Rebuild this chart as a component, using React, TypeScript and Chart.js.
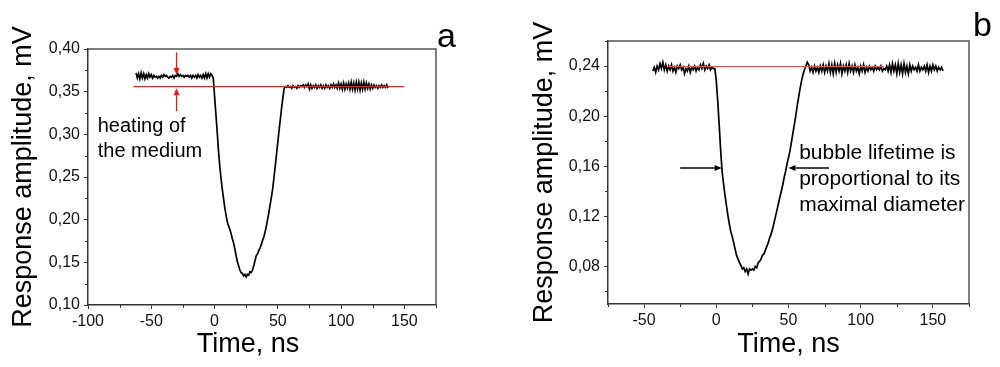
import React, { useEffect, useRef } from "react";
import { Chart, registerables } from "chart.js";

Chart.register(...registerables);

// ---------------- data (panel a) ----------------
const timeStartA = -62; // ns, samples every 1 ns
const preSignalA = [
  0.372, 0.366, 0.371, 0.365, 0.372, 0.366, 0.371, 0.365, 0.370, 0.366,
  0.371, 0.367, 0.370, 0.366, 0.369, 0.367, 0.368, 0.366, 0.368, 0.366,
  0.369, 0.367, 0.370, 0.368, 0.369, 0.367, 0.366, 0.368, 0.367, 0.369,
  0.366, 0.369, 0.368, 0.371, 0.368, 0.370, 0.368, 0.369, 0.367, 0.369,
  0.368, 0.369, 0.367, 0.369, 0.366, 0.369, 0.367, 0.369, 0.366, 0.370,
  0.367, 0.369, 0.366, 0.370, 0.366, 0.371, 0.366, 0.371, 0.367, 0.371,
  0.369,
];
const dipSignalA = [
  0.366, 0.345, 0.325, 0.305, 0.283, 0.265, 0.250, 0.237, 0.226, 0.215,
  0.206, 0.198, 0.193, 0.189, 0.184, 0.178, 0.173, 0.166, 0.158, 0.151,
  0.146, 0.141, 0.138, 0.137, 0.134, 0.136, 0.133, 0.136, 0.135, 0.139,
  0.138, 0.141, 0.146, 0.152, 0.158, 0.160, 0.164, 0.167, 0.171, 0.176,
  0.180, 0.186, 0.193, 0.201, 0.209, 0.218, 0.227, 0.237, 0.250, 0.263,
  0.277, 0.291, 0.305, 0.318, 0.331, 0.343, 0.354,
];
const postSignalA = [
  0.356, 0.355, 0.357, 0.355, 0.356, 0.354, 0.357, 0.355, 0.356, 0.354,
  0.357, 0.355, 0.357, 0.356, 0.358, 0.355, 0.358, 0.356, 0.359, 0.353,
  0.358, 0.354, 0.357, 0.355, 0.358, 0.354, 0.357, 0.355, 0.358, 0.354,
  0.357, 0.354, 0.358, 0.355, 0.357, 0.354, 0.358, 0.355, 0.359, 0.355,
  0.358, 0.354, 0.360, 0.354, 0.359, 0.353, 0.360, 0.353, 0.359, 0.354,
  0.360, 0.353, 0.361, 0.353, 0.360, 0.352, 0.361, 0.353, 0.361, 0.352,
  0.360, 0.353, 0.361, 0.353, 0.360, 0.354, 0.359, 0.353, 0.358, 0.354,
  0.358, 0.355, 0.357, 0.354, 0.357, 0.355, 0.358, 0.355, 0.357, 0.355,
  0.358, 0.354,
];
const heatingLevelA = 0.356;
const heatingLineTimesA = [-64, 150];

// ---------------- data (panel b) ----------------
const timeStartB = -44; // ns, samples every 1 ns
const preSignalB = [
  0.236, 0.239, 0.235, 0.240, 0.237, 0.242, 0.238, 0.243, 0.237, 0.241,
  0.236, 0.240, 0.237, 0.241, 0.236, 0.239, 0.235, 0.240, 0.238, 0.241,
  0.237, 0.239, 0.234, 0.238, 0.236, 0.240, 0.235, 0.239, 0.237, 0.240,
  0.236, 0.239, 0.237, 0.241, 0.238, 0.242, 0.237, 0.240, 0.238, 0.241,
  0.237, 0.239, 0.238,
];
const dipSignalB = [
  0.238, 0.228, 0.212, 0.193, 0.173, 0.156, 0.146, 0.137, 0.129, 0.121,
  0.114, 0.108, 0.104, 0.099, 0.094, 0.089, 0.086, 0.083, 0.081, 0.078,
  0.079, 0.076, 0.078, 0.074, 0.078, 0.077, 0.078, 0.077, 0.080, 0.079,
  0.083, 0.084, 0.086, 0.089, 0.090, 0.093, 0.096, 0.099, 0.103, 0.106,
  0.110, 0.115, 0.120, 0.125, 0.130, 0.135, 0.140, 0.145, 0.151, 0.156,
  0.162, 0.167, 0.172, 0.179, 0.186, 0.193, 0.200, 0.208, 0.215, 0.222,
  0.228, 0.233, 0.237, 0.240, 0.243,
];
const postSignalB = [
  0.241, 0.236, 0.239, 0.235, 0.240, 0.236, 0.239, 0.235, 0.240, 0.236,
  0.241, 0.235, 0.240, 0.236, 0.242, 0.235, 0.241, 0.234, 0.242, 0.235,
  0.241, 0.236, 0.242, 0.234, 0.240, 0.236, 0.241, 0.235, 0.242, 0.236,
  0.240, 0.235, 0.241, 0.236, 0.239, 0.234, 0.240, 0.236, 0.241, 0.235,
  0.239, 0.236, 0.240, 0.237, 0.239, 0.236, 0.240, 0.237, 0.239, 0.237,
  0.240, 0.236, 0.238, 0.237, 0.240, 0.236, 0.241, 0.235, 0.242, 0.236,
  0.241, 0.234, 0.242, 0.235, 0.241, 0.234, 0.242, 0.235, 0.240, 0.234,
  0.241, 0.236, 0.240, 0.237, 0.239, 0.236, 0.241, 0.236, 0.239, 0.237,
  0.240, 0.236, 0.241, 0.235, 0.240, 0.236, 0.241, 0.237, 0.240, 0.236,
  0.239, 0.237, 0.239, 0.236,
];
const baseLevelB = 0.2395;
const baseLineTimesB = [-34, 116];

// ---------------- axes ----------------
const xTicksA = [-100, -50, 0, 50, 100, 150];
const xTickLabelsA = ["-100", "-50", "0", "50", "100", "150"];
const xMinorA = [-75, -25, 25, 75, 125, 175];
const yTicksA = [0.1, 0.15, 0.2, 0.25, 0.3, 0.35, 0.4];
const yTickLabelsA = ["0,10", "0,15", "0,20", "0,25", "0,30", "0,35", "0,40"];
const yMinorA = [0.125, 0.175, 0.225, 0.275, 0.325, 0.375];

const xTicksB = [-50, 0, 50, 100, 150];
const xTickLabelsB = ["-50", "0", "50", "100", "150"];
const xMinorB = [-75, -25, 25, 75, 125, 175];
const yTicksB = [0.08, 0.12, 0.16, 0.2, 0.24];
const yTickLabelsB = ["0,08", "0,12", "0,16", "0,20", "0,24"];
const yMinorB = [0.06, 0.1, 0.14, 0.18, 0.22, 0.26];

// ---------------- annotations (data coordinates) ----------------
const arrowsA = [
  { x1: -30, y1: 0.396, x2: -30, y2: 0.3695, color: "#ff1010" },
  { x1: -30, y1: 0.327, x2: -30, y2: 0.354, color: "#ff1010" },
];
const arrowsB = [
  { x1: -25, y1: 0.1586, x2: 3.7, y2: 0.1586, color: "#000000" },
  { x1: 78, y1: 0.1586, x2: 50, y2: 0.1586, color: "#000000" },
];
const noteA = ["heating of", "the medium"];
const noteB = ["bubble lifetime is", "proportional to its", "maximal diameter"];

const FONT = '"Liberation Sans", Arial, Helvetica, sans-serif';

type Arrow = { x1: number; y1: number; x2: number; y2: number; color: string };
type PanelCfg = {
  timeStart: number;
  signal: number[];
  refTimes: number[];
  refLevel: number;
  refColor: string;
  xMin: number; xMax: number; yMin: number; yMax: number;
  xTicks: number[]; xLabels: string[]; xMinor: number[];
  yTicks: number[]; yLabels: string[]; yMinor: number[];
  top: number; right: number; yWidth: number; xHeight: number;
  yTitlePad: number; xTitleY: number; xTitleShift: number;
  arrows: Arrow[];
  note: string[]; noteX: number; noteY: number; noteSize: number; noteStep: number;
  letter: string; letterX: number; letterY: number;
};

function drawArrow(ctx: CanvasRenderingContext2D, x1: number, y1: number, x2: number, y2: number, color: string) {
  const ang = Math.atan2(y2 - y1, x2 - x1);
  const hl = 7, hw = 3;
  const c = Math.cos(ang), s = Math.sin(ang);
  ctx.save();
  ctx.strokeStyle = color;
  ctx.fillStyle = color;
  ctx.lineWidth = 1.3;
  ctx.beginPath();
  ctx.moveTo(x1, y1);
  ctx.lineTo(x2 - hl * c, y2 - hl * s);
  ctx.stroke();
  ctx.beginPath();
  ctx.moveTo(x2, y2);
  ctx.lineTo(x2 - hl * c + hw * s, y2 - hl * s - hw * c);
  ctx.lineTo(x2 - hl * c - hw * s, y2 - hl * s + hw * c);
  ctx.closePath();
  ctx.fill();
  ctx.restore();
}

function makeDeco(cfg: PanelCfg) {
  return {
    id: "deco",
    afterDraw(chart: any) {
      const ctx: CanvasRenderingContext2D = chart.ctx;
      const { left, right, top, bottom } = chart.chartArea;
      const xs = chart.scales.x;
      const ys = chart.scales.y;
      ctx.save();
      // top & right frame
      ctx.strokeStyle = "#555";
      ctx.lineWidth = 1.5;
      ctx.beginPath();
      ctx.moveTo(left, top);
      ctx.lineTo(right, top);
      ctx.lineTo(right, bottom);
      ctx.stroke();
      // minor ticks
      ctx.strokeStyle = "#333";
      ctx.lineWidth = 1;
      ctx.beginPath();
      cfg.xMinor.forEach((v) => {
        const px = Math.round(xs.getPixelForValue(v)) + 0.5;
        ctx.moveTo(px, bottom);
        ctx.lineTo(px, bottom + 3);
      });
      cfg.yMinor.forEach((v) => {
        const py = Math.round(ys.getPixelForValue(v)) + 0.5;
        ctx.moveTo(left, py);
        ctx.lineTo(left - 3, py);
      });
      ctx.stroke();
      // arrows
      cfg.arrows.forEach((a) =>
        drawArrow(ctx, xs.getPixelForValue(a.x1), ys.getPixelForValue(a.y1), xs.getPixelForValue(a.x2), ys.getPixelForValue(a.y2), a.color)
      );
      // note text
      ctx.fillStyle = "#000";
      ctx.font = `${cfg.noteSize}px ${FONT}`;
      ctx.textAlign = "left";
      ctx.textBaseline = "alphabetic";
      const nx = xs.getPixelForValue(cfg.noteX);
      const ny = ys.getPixelForValue(cfg.noteY);
      cfg.note.forEach((line, i) => ctx.fillText(line, nx, ny + i * cfg.noteStep));
      // x title
      ctx.font = `27px ${FONT}`;
      ctx.textAlign = "center";
      ctx.textBaseline = "middle";
      ctx.fillText("Time, ns", (left + right) / 2 + cfg.xTitleShift, cfg.xTitleY);
      // panel letter
      ctx.font = `34px ${FONT}`;
      ctx.textAlign = "left";
      ctx.textBaseline = "alphabetic";
      ctx.fillText(cfg.letter, cfg.letterX, cfg.letterY);
      ctx.restore();
    },
  };
}

function buildConfig(cfg: PanelCfg): any {
  const points = cfg.signal.map((v, i) => ({ x: cfg.timeStart + i, y: v }));
  const refPoints = cfg.refTimes.map((t) => ({ x: t, y: cfg.refLevel }));
  return {
    type: "line",
    data: {
      datasets: [
        {
          data: refPoints,
          borderColor: cfg.refColor,
          borderWidth: 1.2,
          pointRadius: 0,
          tension: 0,
        },
        {
          data: points,
          borderColor: "#000",
          borderWidth: 1.7,
          pointRadius: 0,
          tension: 0,
        },
      ],
    },
    options: {
      animation: false,
      responsive: false,
      devicePixelRatio: 1,
      events: [],
      layout: { padding: { left: 0, top: cfg.top, right: cfg.right, bottom: 0 } },
      plugins: { legend: { display: false }, tooltip: { enabled: false } },
      scales: {
        x: {
          type: "linear",
          min: cfg.xMin,
          max: cfg.xMax,
          afterBuildTicks: (s: any) => {
            s.ticks = cfg.xTicks.map((v) => ({ value: v }));
          },
          afterFit: (s: any) => {
            s.height = cfg.xHeight;
          },
          ticks: {
            autoSkip: false,
            maxRotation: 0,
            padding: 3,
            color: "#111",
            font: { size: 16, family: FONT },
            callback: (_v: any, i: number) => cfg.xLabels[i],
          },
          grid: { drawOnChartArea: false, drawTicks: true, tickLength: 4, tickColor: "#333", tickWidth: 1 },
          border: { display: true, color: "#333", width: 1.5 },
          title: { display: false },
        },
        y: {
          type: "linear",
          min: cfg.yMin,
          max: cfg.yMax,
          afterBuildTicks: (s: any) => {
            s.ticks = cfg.yTicks.map((v) => ({ value: v }));
          },
          afterFit: (s: any) => {
            s.width = cfg.yWidth;
          },
          ticks: {
            autoSkip: false,
            padding: 4,
            color: "#111",
            font: { size: 16, family: FONT },
            callback: (_v: any, i: number) => cfg.yLabels[i],
          },
          grid: { drawOnChartArea: false, drawTicks: true, tickLength: 4, tickColor: "#333", tickWidth: 1 },
          border: { display: true, color: "#333", width: 1.5 },
          title: {
            display: true,
            text: "Response amplitude, mV",
            color: "#000",
            font: { size: 27, family: FONT },
            padding: { top: cfg.yTitlePad, bottom: 0 },
          },
        },
      },
    },
    plugins: [makeDeco(cfg)],
  };
}

const panelA: PanelCfg = {
  timeStart: timeStartA,
  signal: [...preSignalA, ...dipSignalA, ...postSignalA],
  refTimes: heatingLineTimesA,
  refLevel: heatingLevelA,
  refColor: "#ff1a1a",
  xMin: -100, xMax: 175, yMin: 0.1, yMax: 0.4,
  xTicks: xTicksA, xLabels: xTickLabelsA, xMinor: xMinorA,
  yTicks: yTicksA, yLabels: yTickLabelsA, yMinor: yMinorA,
  top: 49, right: 64, yWidth: 88, xHeight: 62,
  yTitlePad: 7, xTitleY: 345, xTitleShift: -14,
  arrows: arrowsA,
  note: noteA, noteX: -92.3, noteY: 0.303, noteSize: 20, noteStep: 25,
  letter: "a", letterX: 437, letterY: 47,
};

const panelB: PanelCfg = {
  timeStart: timeStartB,
  signal: [...preSignalB, ...dipSignalB, ...postSignalB],
  refTimes: baseLineTimesB,
  refLevel: baseLevelB,
  refColor: "#ff4d4d",
  xMin: -75, xMax: 175, yMin: 0.05, yMax: 0.26,
  xTicks: xTicksB, xLabels: xTickLabelsB, xMinor: xMinorB,
  yTicks: yTicksB, yLabels: yTickLabelsB, yMinor: yMinorB,
  top: 41, right: 31, yWidth: 108, xHeight: 63,
  yTitlePad: 28.5, xTitleY: 345, xTitleShift: 0,
  arrows: arrowsB,
  note: noteB, noteX: 57.4, noteY: 0.1654, noteSize: 21, noteStep: 25.7,
  letter: "b", letterX: 473, letterY: 36,
};

function Panel({ cfg }: { cfg: PanelCfg }) {
  const ref = useRef<HTMLCanvasElement>(null);
  useEffect(() => {
    const chart = new Chart(ref.current as HTMLCanvasElement, buildConfig(cfg));
    return () => chart.destroy();
  }, [cfg]);
  return <canvas ref={ref} width={500} height={367} style={{ display: "block", width: 500, height: 367 }} />;
}

export default function App() {
  return (
    <div style={{ position: "absolute", left: 0, top: 0, width: 1000, height: 367, display: "flex", background: "#fff" }}>
      <Panel cfg={panelA} />
      <Panel cfg={panelB} />
    </div>
  );
}
